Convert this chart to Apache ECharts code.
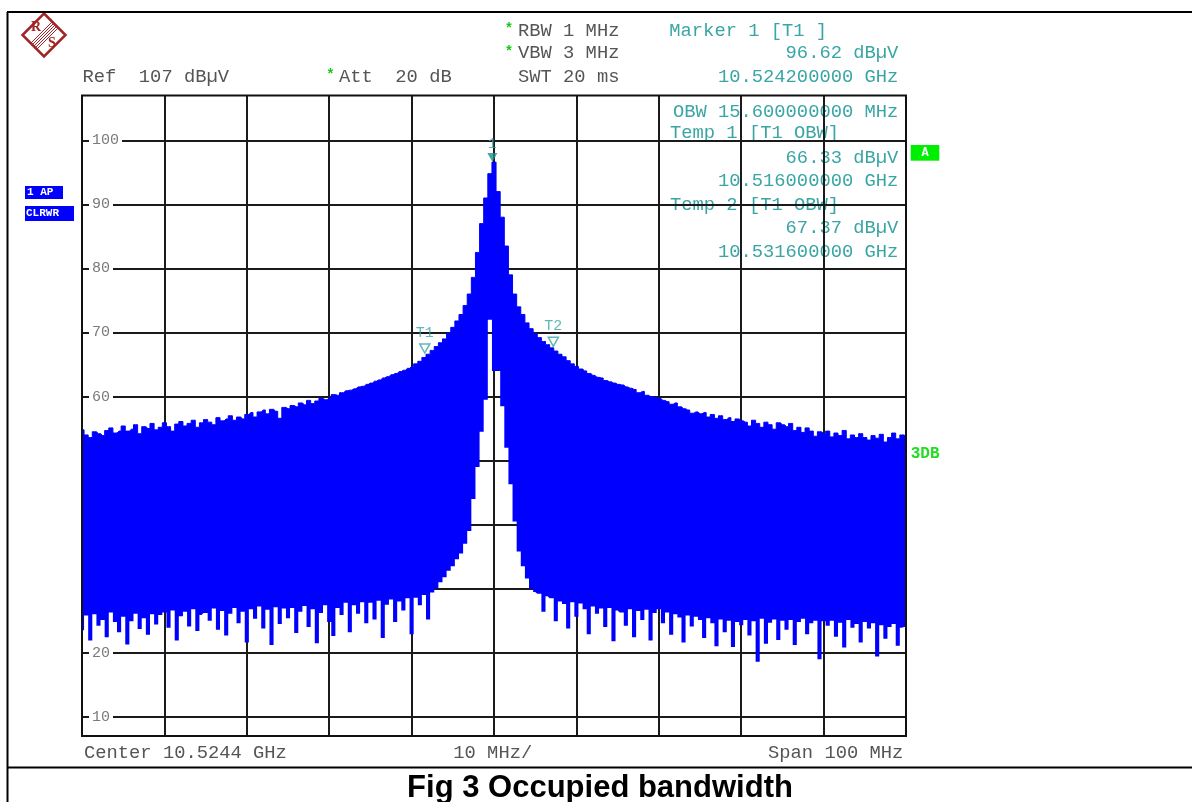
<!DOCTYPE html>
<html>
<head>
<meta charset="utf-8">
<title>Fig 3 Occupied bandwidth</title>
<script src="https://cdn.jsdelivr.net/npm/echarts@6/dist/echarts.min.js"></script>
<style>
  html, body { margin: 0; padding: 0; background: #fff; }
  #spec { width: 1192px; height: 802px; }
</style>
</head>
<body>
<div id="spec"></div>
<script type="text/javascript">
// trace, one value every 0.5 MHz from -50 MHz to +50 MHz (offset from centre)
var spanStart = -50;
var spanStep = 0.5;
var traceUpper = [
  54.8, 54.0, 53.6, 54.5, 54.2, 53.9, 54.7, 55.1, 54.3, 54.6,
  55.4, 54.6, 54.9, 55.6, 54.2, 55.3, 55.0, 55.8, 54.8, 55.2,
  55.9, 55.3, 54.6, 55.7, 56.1, 55.4, 55.8, 56.3, 55.2, 55.9,
  56.4, 56.0, 55.6, 56.7, 56.2, 56.5, 57.0, 56.3, 56.8, 56.5,
  57.2, 57.5, 56.8, 57.6, 57.9, 57.3, 58.0, 57.7, 56.6, 58.3,
  58.1, 58.6, 58.4, 59.0, 58.7, 59.4, 58.9, 59.3, 59.7, 59.5,
  59.8, 60.3, 60.2, 60.6, 60.9, 61.0, 61.2, 61.5, 61.6, 61.9,
  62.1, 62.4, 62.6, 62.9, 63.1, 63.4, 63.6, 63.9, 64.1, 64.4,
  64.7, 65.1, 65.5, 66.1, 66.6, 67.2, 67.8, 68.4, 69.0, 69.9,
  70.8, 71.8, 72.8, 74.2, 76.0, 78.6, 82.5, 87.0, 91.0, 94.8,
  96.6,
  92.0, 88.0, 83.5, 79.0, 76.0, 74.0, 72.8, 71.5, 70.6, 69.8,
  69.2, 68.6, 68.1, 67.6, 67.1, 66.6, 66.2, 65.6, 65.1, 64.7,
  64.3, 64.0, 63.6, 63.3, 63.0, 62.9, 62.5, 62.3, 62.1, 61.9,
  61.8, 61.5, 61.3, 61.1, 60.6, 60.8, 60.2, 60.0, 59.9, 59.7,
  59.4, 59.2, 58.8, 59.0, 58.4, 58.1, 57.9, 57.4, 57.6, 57.3,
  57.5, 56.8, 57.2, 56.6, 57.0, 56.4, 56.7, 56.1, 56.5, 56.2,
  56.0, 55.4, 56.3, 55.8, 55.2, 56.0, 55.6, 54.9, 55.9, 55.6,
  55.3, 55.8, 54.7, 55.2, 54.4, 55.1, 54.6, 53.8, 54.5, 54.2,
  54.6, 53.7, 54.3, 53.9, 54.7, 53.4, 54.0, 53.6, 54.2, 53.6,
  53.2, 53.9, 53.5, 54.1, 52.9, 53.6, 54.3, 53.4, 54.0, 53.8
];
var traceLower = [
  23.5, 25.8, 21.9, 26.0, 24.2, 25.1, 22.4, 26.3, 24.8, 23.2,
  25.6, 21.3, 24.9, 26.1, 23.7, 25.4, 22.8, 26.0, 24.4, 25.9,
  26.3, 23.9, 26.6, 21.9, 25.7, 26.4, 24.1, 26.8, 23.4, 25.9,
  26.2, 25.0, 26.9, 23.6, 26.5, 22.7, 26.1, 27.0, 24.6, 26.4,
  21.6, 26.8, 25.3, 27.2, 23.8, 26.7, 21.2, 27.1, 24.5, 26.9,
  25.4, 27.0, 23.1, 26.4, 27.3, 24.0, 26.8, 21.5, 26.2, 27.4,
  24.8, 22.6, 27.0, 25.9, 27.8, 23.2, 27.4, 26.1, 27.9, 24.6,
  27.8, 25.2, 28.1, 22.3, 27.5, 28.3, 24.8, 28.0, 26.6, 28.5,
  22.9, 28.6, 27.4, 29.0, 25.2, 29.4, 30.0, 31.0, 31.8, 32.8,
  33.5, 34.6, 35.5, 37.0, 39.0, 44.0, 49.0, 54.5, 59.5, 72.0,
  64.0,
  64.0, 58.5, 52.0, 46.3, 40.5, 35.8, 33.5, 31.6, 30.0, 29.5,
  29.2, 26.4, 28.8, 28.5, 24.9, 28.0, 27.6, 23.8, 27.9, 25.6,
  27.7, 26.8, 22.9, 27.2, 26.1, 26.9, 24.0, 27.0, 21.8, 26.6,
  26.3, 24.2, 26.8, 22.4, 26.5, 25.1, 26.7, 21.9, 26.2, 26.8,
  24.6, 26.3, 22.8, 26.0, 25.5, 21.6, 25.8, 24.1, 25.6, 25.1,
  22.3, 25.4, 24.6, 21.0, 25.2, 23.2, 25.0, 20.9, 24.8, 24.3,
  25.1, 22.7, 24.9, 18.6, 25.3, 21.4, 24.7, 25.2, 22.0, 25.0,
  23.6, 25.1, 21.2, 24.8, 25.3, 22.9, 24.6, 25.0, 19.0, 24.9,
  24.2, 25.0, 22.5, 24.7, 20.8, 25.1, 23.9, 24.5, 21.6, 24.8,
  23.8, 24.6, 19.4, 24.3, 22.2, 24.0, 24.5, 21.1, 23.9, 24.0
];
var levelTicks = [10, 20, 30, 40, 50, 60, 70, 80, 90, 100];
var markerNames = ['1', 'T1', 'T2'];
var markerFreqs = [-0.2, -8.4, 7.2];
var markerLevels = [96.62, 66.33, 67.37];

var freqs = [];
for (var i = 0; i < traceUpper.length; i++) {
  freqs.push(spanStart + i * spanStep);
}
var bandHeight = traceUpper.map(function (v, i) { return +(v - traceLower[i]).toFixed(2); });

var TEAL = '#3aa5a5';
var GREY = '#555555';
var MONO = 'Liberation Mono';

function txt(s, x, y, color, align, font, z) {
  return {
    type: 'text', x: x, y: y, z: (z === undefined ? -1 : z),
    style: {
      text: s, fill: color, align: align || 'left', verticalAlign: 'middle',
      font: font || ('18.8px "' + MONO + '"')
    }
  };
}

var markerData = markerNames.map(function (n, i) {
  var filled = (i === 0);
  return {
    name: n,
    value: [markerFreqs[i], markerLevels[i]],
    symbolOffset: [0, filled ? -4.5 : -7.5],
    itemStyle: filled ? { color: '#1f8f8f' } : { color: '#ffffff', borderColor: TEAL, borderWidth: 1.5 },
    label: { distance: filled ? 1 : 3 }
  };
});

var graphics = [
  // outer page frame
  { type: 'line', z: 20, shape: { x1: 7, y1: 12, x2: 1192, y2: 12 }, style: { stroke: '#000', lineWidth: 2 } },
  { type: 'line', z: 20, shape: { x1: 7.5, y1: 12, x2: 7.5, y2: 802 }, style: { stroke: '#000', lineWidth: 2 } },
  { type: 'line', z: 20, shape: { x1: 7, y1: 767.5, x2: 1192, y2: 767.5 }, style: { stroke: '#000', lineWidth: 2 } },
  // plot frame
  { type: 'rect', z: 20, shape: { x: 82, y: 95.5, width: 824, height: 640.5 }, style: { fill: null, stroke: '#111', lineWidth: 2 } },

  // R&S logo
  { type: 'polygon', z: 5, shape: { points: [[44, 13.5], [65.5, 35], [44, 56.5], [22.5, 35]] },
    style: { fill: null, stroke: '#a32424', lineWidth: 2.5 } },
  { type: 'line', z: 5, shape: { x1: 30.5, y1: 43.5, x2: 52.5, y2: 21.5 }, style: { stroke: '#a32424', lineWidth: 1 } },
  { type: 'line', z: 5, shape: { x1: 32, y1: 45, x2: 54, y2: 23 }, style: { stroke: '#a32424', lineWidth: 1 } },
  { type: 'line', z: 5, shape: { x1: 33.5, y1: 46.5, x2: 55.5, y2: 24.5 }, style: { stroke: '#a32424', lineWidth: 1 } },
  { type: 'line', z: 5, shape: { x1: 35, y1: 48, x2: 57, y2: 26 }, style: { stroke: '#a32424', lineWidth: 1 } },
  { type: 'line', z: 5, shape: { x1: 36.5, y1: 49.5, x2: 58.5, y2: 27.5 }, style: { stroke: '#a32424', lineWidth: 1 } },
  txt('R', 36, 27, '#a32424', 'center', 'bold 14px "Liberation Serif"', 6),
  txt('S', 52, 43, '#a32424', 'center', 'bold 14px "Liberation Serif"', 6),

  // header settings
  txt('Ref  107 dB\u00b5V', 82.5, 77, GREY),
  txt('*', 330.5, 75, '#11cc11', 'center', 'bold 14px "' + MONO + '"'),
  txt('Att  20 dB', 339, 77, GREY),
  txt('*', 509, 29, '#11cc11', 'center', 'bold 14px "' + MONO + '"'),
  txt('RBW 1 MHz', 518, 30.7, GREY),
  txt('*', 509, 52, '#11cc11', 'center', 'bold 14px "' + MONO + '"'),
  txt('VBW 3 MHz', 518, 53.3, GREY),
  txt('SWT 20 ms', 518, 77.3, GREY),

  // marker readout
  txt('Marker 1 [T1 ]', 669.3, 30.7, TEAL),
  txt('96.62 dB\u00b5V', 898.3, 53.3, TEAL, 'right'),
  txt('10.524200000 GHz', 898.3, 77.3, TEAL, 'right'),
  txt('OBW 15.600000000 MHz', 898.3, 111.7, TEAL, 'right'),
  txt('Temp 1 [T1 OBW]', 670, 133.3, TEAL),
  txt('66.33 dB\u00b5V', 898.3, 158.3, TEAL, 'right'),
  txt('10.516000000 GHz', 898.3, 180.7, TEAL, 'right'),
  txt('Temp 2 [T1 OBW]', 670, 205, TEAL),
  txt('67.37 dB\u00b5V', 898.3, 228.3, TEAL, 'right'),
  txt('10.531600000 GHz', 898.3, 252.3, TEAL, 'right'),

  // side flags
  { type: 'rect', z: 5, shape: { x: 910.7, y: 145, width: 28.6, height: 15.7 }, style: { fill: '#00ee00' } },
  txt('A', 925, 153, '#ffffff', 'center', 'bold 12px "' + MONO + '"', 6),
  txt('3DB', 910.7, 454, '#22dd22', 'left', 'bold 16px "' + MONO + '"'),
  { type: 'rect', z: 5, shape: { x: 25, y: 186, width: 38, height: 13 }, style: { fill: '#0000ff' } },
  txt('1 AP', 27, 192.5, '#ffffff', 'left', 'bold 11px "' + MONO + '"', 6),
  { type: 'rect', z: 5, shape: { x: 25, y: 206, width: 49, height: 15 }, style: { fill: '#0000ff' } },
  txt('CLRWR', 26, 213.5, '#ffffff', 'left', 'bold 11px "' + MONO + '"', 6),

  // footer
  txt('Center 10.5244 GHz', 84, 753.3, GREY),
  txt('10 MHz/', 453.3, 753.3, GREY),
  txt('Span 100 MHz', 903.3, 753.3, GREY, 'right'),
  txt('Fig 3 Occupied bandwidth', 600, 788, '#000000', 'center', 'bold 31px "Liberation Sans"')
];

var myChart = echarts.init(document.getElementById('spec'));
var option = {
  backgroundColor: '#ffffff',
  animation: false,
  grid: { left: 82, top: 95.5, width: 824, height: 640.5, show: false },
  xAxis: [
    {
      type: 'category', data: freqs, boundaryGap: false,
      axisLine: { show: false }, axisTick: { show: false }, axisLabel: { show: false },
      splitLine: { show: true, interval: function (idx) { return idx % 20 === 0; },
        lineStyle: { color: '#1a1a1a', width: 2 } }
    },
    { type: 'value', min: -50, max: 50, show: false }
  ],
  yAxis: [
    {
      type: 'value', min: 7, max: 107,
      axisLine: { show: false },
      axisTick: { show: false, customValues: levelTicks },
      axisLabel: { show: false, customValues: levelTicks },
      splitLine: { show: true, lineStyle: { color: '#1a1a1a', width: 2 } }
    },
    {
      type: 'value', min: 7, max: 107, position: 'left', z: 1,
      axisLine: { show: false }, axisTick: { show: false }, splitLine: { show: false },
      axisLabel: {
        customValues: levelTicks, inside: true, margin: 7,
        color: '#7a7a7a', fontFamily: MONO, fontSize: 15,
        backgroundColor: '#ffffff', padding: [0, 3, 0, 3]
      }
    }
  ],
  graphic: { elements: graphics },
  series: [
    {
      name: 'floor', type: 'line', stack: 'trace', step: 'middle',
      data: traceLower, symbol: 'none', silent: true,
      lineStyle: { opacity: 0 }
    },
    {
      name: 'trace', type: 'line', stack: 'trace', step: 'middle',
      data: bandHeight, symbol: 'none', silent: true,
      lineStyle: { color: '#0000ff', width: 1 },
      areaStyle: { color: '#0000ff', opacity: 1 }
    },
    {
      name: 'markers', type: 'scatter', xAxisIndex: 1, yAxisIndex: 0, z: 4,
      symbol: 'path://M0,0 L10,0 L5,9 Z', symbolSize: [10, 9],
      data: markerData,
      label: {
        show: true, position: 'top', color: TEAL,
        fontFamily: MONO, fontSize: 15,
        formatter: function (p) { return p.name; }
      }
    }
  ]
};
myChart.setOption(option);
</script>
</body>
</html>
